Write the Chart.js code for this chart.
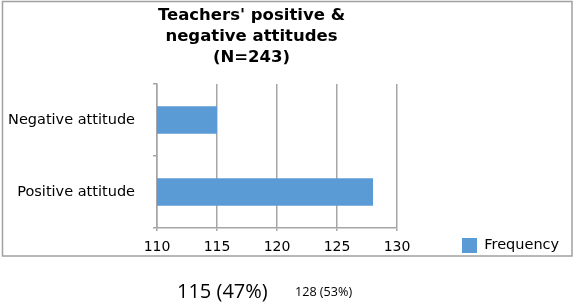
<!DOCTYPE html>
<html>
<head>
<meta charset="utf-8">
<script src="https://cdn.jsdelivr.net/npm/chart.js@4"></script>
<style>
  html, body { margin: 0; padding: 0; background: #fff; }
  #wrap { position: relative; width: 576px; height: 304px; overflow: hidden; }
  #c { position: absolute; left: 0; top: 0; }
  .note { position: absolute; font-family: "Open Sans", sans-serif; color: #000; white-space: nowrap; line-height: 1; }
  #note1 { left: 177px; top: 281px; font-size: 20px; }
  #note2 { left: 295px; top: 285.5px; font-size: 12.6px; }
</style>
</head>
<body>
<div id="wrap">
  <canvas id="c" width="576" height="304"></canvas>
  <div class="note" id="note1"></div>
  <div class="note" id="note2"></div>
</div>
<script>
const categories = ['Negative attitude', 'Positive attitude'];
const frequency = [115, 128];
const seriesLabel = 'Frequency';
const xTicks = [110, 115, 120, 125, 130];
const titleLines = ["Teachers' positive &", 'negative attitudes', '(N=243)'];
const notes = ['115 (47%)', '128 (53%)'];

document.getElementById('note1').textContent = notes[0];
document.getElementById('note2').textContent = notes[1];

const gridColor = '#a6a6a6';

const framePlugin = {
  id: 'frame',
  beforeDraw(chart) {
    const ctx = chart.ctx;
    ctx.save();
    ctx.strokeStyle = '#a0a0a0';
    ctx.lineWidth = 1.5;
    ctx.strokeRect(2.5, 1.5, 569.5, 254.5);
    ctx.restore();
  }
};

const placePlugin = {
  id: 'place',
  afterLayout(chart) {
    const t = chart.titleBlock;
    if (t) { t.left = 0; t.right = 503; }
    const lg = chart.legend;
    if (lg) {
      const w = lg.width, h = lg.height;
      lg.left = 452; lg.top = 228; lg.right = 452 + w; lg.bottom = 228 + h;
    }
  }
};

new Chart(document.getElementById('c'), {
  type: 'bar',
  data: {
    labels: categories,
    datasets: [{
      label: seriesLabel,
      data: frequency,
      backgroundColor: '#5b9bd5',
      borderWidth: 0,
      barPercentage: 0.38,
      categoryPercentage: 1.0
    }]
  },
  options: {
    indexAxis: 'y',
    responsive: false,
    animation: false,
    devicePixelRatio: 1,
    layout: { padding: { left: 0, right: 179, top: 0, bottom: 46 } },
    plugins: {
      title: {
        display: true,
        text: titleLines,
        color: '#000',
        font: { family: 'DejaVu Sans', size: 16.5, weight: 'bold', lineHeight: 1.2727 },
        padding: { top: 5, bottom: 16 }
      },
      legend: {
        display: true,
        position: 'chartArea',
        align: 'start',
        labels: {
          boxWidth: 15,
          boxHeight: 15,
          padding: 10,
          color: '#000',
          font: { family: 'DejaVu Sans', size: 14.5 }
        }
      },
      tooltip: { enabled: false }
    },
    scales: {
      x: {
        type: 'linear',
        min: xTicks[0],
        max: xTicks[xTicks.length - 1],
        afterBuildTicks(scale) { scale.ticks = xTicks.map(v => ({ value: v })); },
        afterFit(scale) { scale.height = 30; },
        grid: { color: gridColor, lineWidth: 1.5, tickLength: 3, drawTicks: true },
        border: { display: true, color: gridColor, width: 1.5 },
        ticks: { color: '#000', padding: 8, font: { family: 'DejaVu Sans', size: 14 } }
      },
      y: {
        type: 'category',
        afterFit(scale) { scale.width = 157; },
        grid: { display: true, drawOnChartArea: false, offset: true, color: gridColor, lineWidth: 1.5, tickLength: 4 },
        border: { display: true, color: gridColor, width: 1.5 },
        ticks: { color: '#000', padding: 18, font: { family: 'DejaVu Sans', size: 14.5 } }
      }
    }
  },
  plugins: [framePlugin, placePlugin]
});
</script>
</body>
</html>
